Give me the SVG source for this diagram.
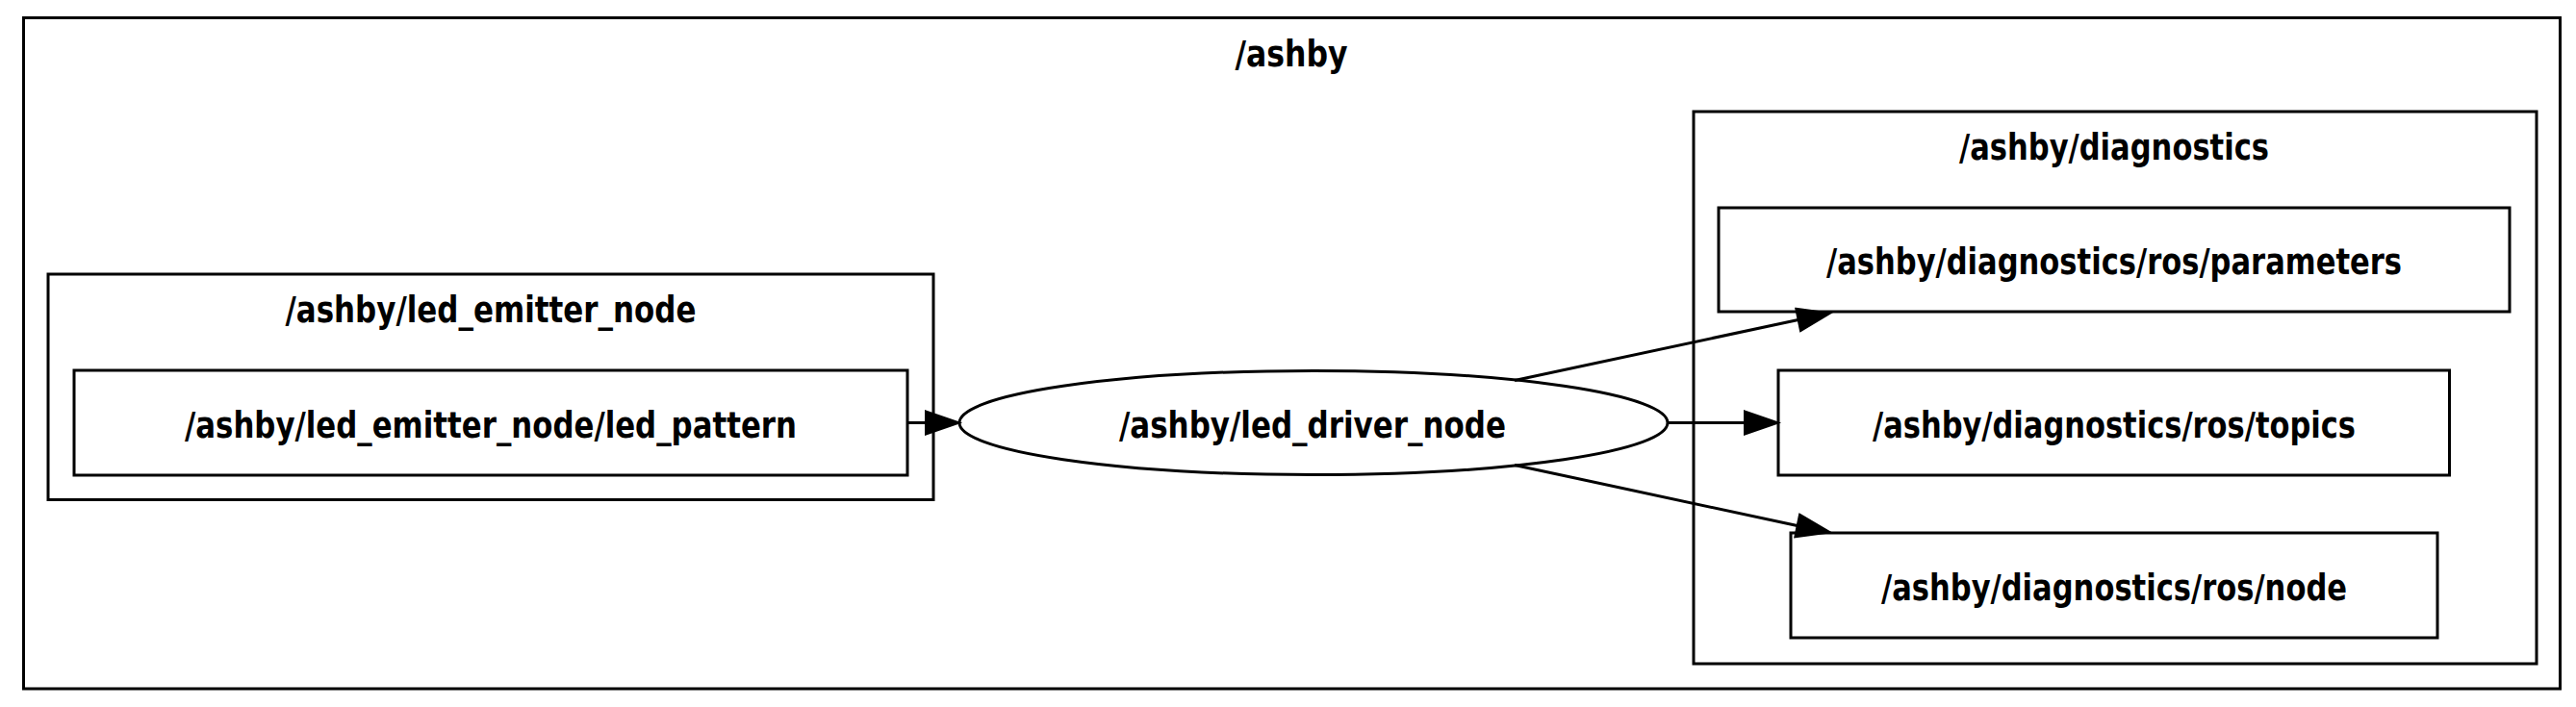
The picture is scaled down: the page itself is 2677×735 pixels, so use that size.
<svg xmlns="http://www.w3.org/2000/svg" width="2677" height="735" viewBox="0 0 2677 735">
<style>
  .box{fill:none;stroke:#000;stroke-width:3}
  .lbl{font-family:"DejaVu Sans","Liberation Sans",sans-serif;font-weight:bold;font-size:37px;fill:#000;text-anchor:middle}
  .edge{fill:none;stroke:#000;stroke-width:3}
  .head{fill:#000;stroke:#000;stroke-width:2}
</style>
<rect width="2677" height="735" fill="#fff"/>
<g id="cluster_ashby">
  <rect class="box" x="24.5" y="18.5" width="2636" height="697.5"/>
  <text class="lbl" x="1342" y="69" textLength="117" lengthAdjust="spacingAndGlyphs">/ashby</text>
</g>
<g id="cluster_led_emitter_node">
  <rect class="box" x="50" y="285" width="920" height="234.5"/>
  <text class="lbl" x="510" y="335" textLength="427" lengthAdjust="spacingAndGlyphs">/ashby/led_emitter_node</text>
</g>
<g id="cluster_diagnostics">
  <rect class="box" x="1760" y="116" width="876" height="574"/>
  <text class="lbl" x="2197" y="166" textLength="322" lengthAdjust="spacingAndGlyphs">/ashby/diagnostics</text>
</g>
<g id="node_led_pattern">
  <rect class="box" x="77" y="385" width="866" height="109"/>
  <text class="lbl" x="510" y="455" textLength="636" lengthAdjust="spacingAndGlyphs">/ashby/led_emitter_node/led_pattern</text>
</g>
<g id="node_led_driver_node">
  <ellipse class="box" cx="1365" cy="439.5" rx="368" ry="54"/>
  <text class="lbl" x="1364" y="455" textLength="402" lengthAdjust="spacingAndGlyphs">/ashby/led_driver_node</text>
</g>
<g id="node_parameters">
  <rect class="box" x="1786" y="216" width="822" height="108"/>
  <text class="lbl" x="2197" y="285" textLength="598" lengthAdjust="spacingAndGlyphs">/ashby/diagnostics/ros/parameters</text>
</g>
<g id="node_topics">
  <rect class="box" x="1848" y="385" width="697.5" height="109"/>
  <text class="lbl" x="2197" y="455" textLength="502" lengthAdjust="spacingAndGlyphs">/ashby/diagnostics/ros/topics</text>
</g>
<g id="node_node">
  <rect class="box" x="1861" y="554" width="672" height="109"/>
  <text class="lbl" x="2197" y="624" textLength="484" lengthAdjust="spacingAndGlyphs">/ashby/diagnostics/ros/node</text>
</g>
<g id="connectors">
  <line class="edge" x1="943" y1="439.5" x2="962" y2="439.5"/>
  <polygon class="head" points="962,427.5 997,439.5 962,451.5"/>
  <line class="edge" x1="1733" y1="439.5" x2="1813" y2="439.5"/>
  <polygon class="head" points="1813,427.5 1848,439.5 1813,451.5"/>
  <line class="edge" x1="1574" y1="395.5" x2="1868.7" y2="332.5"/>
  <polygon class="head" points="1866.3,320.8 1902,325.5 1871.1,344.2"/>
  <line class="edge" x1="1574" y1="483.5" x2="1867.7" y2="546.5"/>
  <polygon class="head" points="1870.1,534.7 1902,553.5 1865.3,558.3"/>
</g>
</svg>
